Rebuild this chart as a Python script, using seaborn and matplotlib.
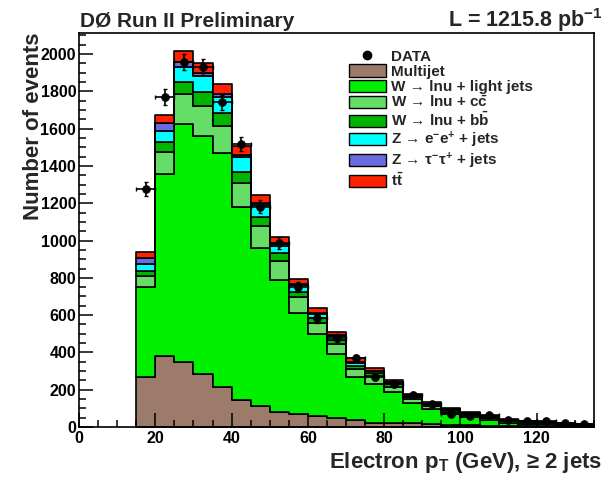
import numpy as np
import pandas as pd
import matplotlib
matplotlib.use("Agg")
import matplotlib.pyplot as plt
import seaborn as sns
from matplotlib.patches import Patch
from matplotlib.lines import Line2D
from matplotlib.ticker import MultipleLocator

# ---------------- data (events per 5 GeV bin, 15..135 GeV) ----------------
bin_lo = list(range(15, 135, 5))
multijet = [266, 381, 347, 283, 216, 145, 114, 79, 68, 61, 47, 38, 23, 23, 20, 15, 12, 10, 8, 6, 5, 4, 3, 3]
w_light  = [483, 974, 1276, 1279, 1252, 1033, 844, 709, 545, 436, 343, 232, 210, 166, 108, 80, 60, 44, 28, 17, 13, 12, 8, 6]
w_cc     = [61, 121, 161, 161, 146, 132, 120, 104, 82, 59, 55, 39, 42, 27, 20, 15, 11, 11, 11, 7, 5, 5, 4, 3]
w_bb     = [28, 54, 64, 72, 68, 59, 50, 39, 30, 27, 21, 20, 16, 14, 12, 10, 7, 7, 6, 5, 4, 3, 3, 2]
z_ee     = [34, 57, 81, 87, 86, 80, 62, 42, 36, 25, 23, 15, 9, 8, 7, 5, 4, 4, 3, 3, 2, 2, 2, 1]
z_tautau = [36, 41, 30, 18, 16, 9, 9, 7, 6, 5, 4, 3, 2, 2, 2, 1, 1, 1, 1, 1, 1, 1, 0.5, 0.5]
ttbar    = [32, 45, 57, 53, 54, 49, 45, 37, 28, 27, 18, 21, 13, 10, 9, 7, 6, 5, 4, 3, 3, 2, 2, 1.5]
data     = [1276, 1769, 1959, 1932, 1741, 1517, 1181, 988, 752, 583, 479, 368, 270, 232, 172, 125, 70, 59, 63, 39, 30, 31, 21, 15]

process_names = ["Multijet", "W_light", "W_cc", "W_bb", "Z_ee", "Z_tautau", "ttbar"]
process_values = [multijet, w_light, w_cc, w_bb, z_ee, z_tautau, ttbar]
process_colors = ["#9c7b6b", "#00f000", "#66dd66", "#00b400", "#00ffff", "#6b6bdf", "#ff2200"]
legend_labels = [
    "Multijet",
    "W → lnu + light jets",
    r"W → lnu + c$\bar{c}$",
    r"W → lnu + b$\bar{b}$",
    r"Z → e$^{-}$e$^{+}$ + jets",
    r"Z → $\tau^{-}\tau^{+}$ + jets",
    r"t$\bar{t}$",
]

# ---------------- style ----------------
sns.set_style("ticks")
plt.rcParams["font.family"] = ["Liberation Sans", "DejaVu Sans"]
plt.rcParams["font.weight"] = "bold"
plt.rcParams["mathtext.fontset"] = "custom"
plt.rcParams["mathtext.rm"] = "Liberation Sans:bold"
plt.rcParams["mathtext.it"] = "Liberation Sans:bold"
plt.rcParams["mathtext.bf"] = "Liberation Sans:bold"
plt.rcParams["mathtext.sf"] = "Liberation Sans:bold"

bin_width = 5
edges = bin_lo + [bin_lo[-1] + bin_width]
centers = np.array(bin_lo) + bin_width / 2

rows = []
for name, vals in zip(process_names, process_values):
    for c, v in zip(centers, vals):
        rows.append({"pt": c, "n": v, "process": name})
df = pd.DataFrame(rows)

fig = plt.figure(figsize=(6.13, 4.82), dpi=100)
ax = fig.add_axes([79 / 613, 1 - 427 / 482, (594 - 79) / 613, (427 - 32.7) / 482])

palette = dict(zip(process_names, process_colors))
sns.histplot(
    data=df, x="pt", weights="n", hue="process",
    hue_order=process_names[::-1], bins=edges,
    multiple="stack", element="step", fill=True,
    palette=palette, edgecolor="black", linewidth=1.2, alpha=1,
    legend=False, ax=ax,
)

data_arr = np.array(data, dtype=float)
ax.errorbar(centers, data_arr, yerr=np.sqrt(data_arr), xerr=bin_width / 2,
            fmt="none", ecolor="black", elinewidth=1.2, capsize=1.2, zorder=4)
sns.scatterplot(x=centers, y=data_arr, color="black", s=32, edgecolor="black",
                linewidth=0.5, zorder=5, ax=ax)

ax.set_xlim(0, 135)
ax.set_ylim(0, 2115)
ax.set_axisbelow(False)
ax.xaxis.set_major_locator(MultipleLocator(20))
ax.xaxis.set_minor_locator(MultipleLocator(5))
ax.yaxis.set_major_locator(MultipleLocator(200))
ax.yaxis.set_minor_locator(MultipleLocator(50))
ax.tick_params(which="both", direction="in", top=False, right=False, width=1.1, colors="black")
ax.tick_params(which="major", length=10, labelsize=11.5, pad=3)
ax.tick_params(which="minor", length=5)
ax.tick_params(axis="y", which="major", pad=2)
for lab in ax.get_xticklabels() + ax.get_yticklabels():
    lab.set_fontweight("bold")
for sp in ax.spines.values():
    sp.set_visible(True)
    sp.set_linewidth(1.2)
    sp.set_color("black")

ax.set_xlabel("Electron p$_{T}$ (GeV), ≥ 2 jets", fontsize=16, fontweight="bold", loc="right")
ax.xaxis.set_label_coords(1.016, -0.058)
ax.set_ylabel("Number of events", fontsize=16, fontweight="bold", loc="top")
ax.yaxis.set_label_coords(-0.068, 1.0)

fig.text(80 / 613, 1 - 27 / 482, "DØ Run II Preliminary", fontsize=15, fontweight="bold",
         ha="left", va="baseline")
fig.text(603 / 613, 1 - 27 / 482, r"L = 1215.8 pb$^{-1}$", fontsize=15.5, fontweight="bold",
         ha="right", va="baseline")

handles = [Line2D([0], [0], marker="o", color="black", linestyle="none", markersize=6)]
labels = ["DATA"]
for name, col, lab in zip(process_names, process_colors, legend_labels):
    handles.append(Patch(facecolor=col, edgecolor="black", linewidth=1.0))
    labels.append(lab)
leg = ax.legend(handles, labels, loc="upper left", bbox_to_anchor=(0.524, 0.958),
                frameon=False, fontsize=11, handlelength=2.4, handleheight=0.85,
                handletextpad=0.35, labelspacing=0.05, borderpad=0, borderaxespad=0)
for t in leg.get_texts():
    t.set_fontweight("bold")

fig.savefig("out.png", dpi=100)
